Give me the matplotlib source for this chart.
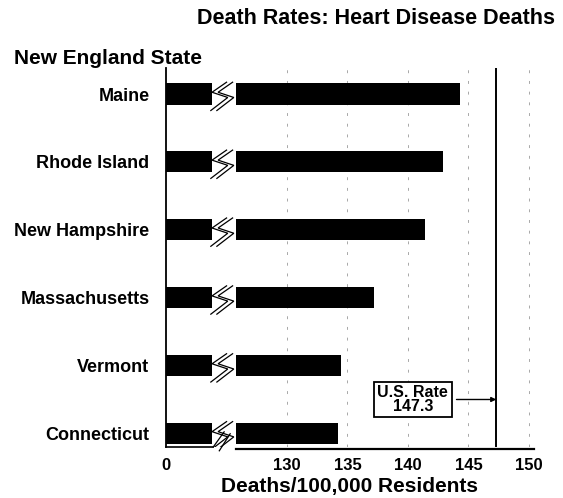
import matplotlib.pyplot as plt
import numpy as np

plt.rcParams['font.family'] = ['Liberation Sans', 'DejaVu Sans']
plt.rcParams['font.weight'] = 'bold'

states = ["Connecticut", "Vermont", "Massachusetts", "New Hampshire", "Rhode Island", "Maine"]
rates = [134.2, 134.5, 137.2, 141.4, 142.9, 144.3]
us_rate = 147.3
tick_vals = [130, 135, 140, 145, 150]

# broken axis: the stub left of the break stands for 0 .. ~124
AXIS_ZERO = 120.0
BREAK_LO, BREAK_HI = 123.8, 125.8

fig = plt.figure(figsize=(5.63, 4.98), dpi=100)
ax = fig.add_axes([0.295, 0.1024, 0.653, 0.7606])

ypos = np.arange(len(states))
bar_h = 0.31

# bars in two pieces around the break
ax.barh(ypos, BREAK_LO - AXIS_ZERO, left=AXIS_ZERO, height=bar_h, color='black', zorder=3)
ax.barh(ypos, np.array(rates) - BREAK_HI, left=BREAK_HI, height=bar_h, color='black', zorder=3)

# zigzag break marks on each bar
zx = np.array([125.0, 123.8, 125.1, 123.7])
zy = np.array([0.174, 0.026, -0.051, -0.243])
for y in ypos:
    for off in (0.0, 0.5):
        ax.plot(zx + off, y + zy, color='black', lw=0.9, zorder=4, solid_joinstyle='miter')

# dashed grid
for v in tick_vals:
    ax.axvline(v, color='#a8a8a8', lw=0.7, ls=(0, (3, 8)), zorder=1)

# U.S. rate line and callout
ax.axvline(us_rate, color='black', lw=1.4, zorder=2)
ax.annotate("U.S. Rate\n" + f"{us_rate}", xy=(us_rate, 0.5), xytext=(140.4, 0.5),
            ha='center', va='center', fontsize=11.5, fontweight='bold', linespacing=0.85,
            bbox=dict(boxstyle='square,pad=0.22', fc='white', ec='black', lw=1.3),
            arrowprops=dict(arrowstyle='-|>', color='black', lw=1, mutation_scale=7,
                            shrinkA=3, shrinkB=0))

ax.set_xlim(AXIS_ZERO, 150.4)
ax.set_ylim(-0.2, 5.38)

ax.set_yticks(ypos)
ax.set_yticklabels(states, fontsize=13, fontweight='bold')
ax.set_xticks([AXIS_ZERO] + tick_vals)
ax.set_xticklabels(['0'] + [str(v) for v in tick_vals], fontsize=12, fontweight='bold')
ax.tick_params(axis='y', length=0, pad=12)
ax.tick_params(axis='x', length=0, pad=8)

for s in ['top', 'right', 'bottom']:
    ax.spines[s].set_visible(False)
ax.spines['left'].set_linewidth(1.3)

# bottom axis line with break
tr = ax.get_xaxis_transform()
ax.plot([AXIS_ZERO, BREAK_LO + 0.1], [0, 0], color='black', lw=1.2, transform=tr, clip_on=False)
ax.plot([BREAK_LO + 0.1, 124.8], [0, 0.04], color='black', lw=0.9, transform=tr, clip_on=False)
ax.plot([124.4, 125.3], [-0.01, 0.035], color='black', lw=0.9, transform=tr, clip_on=False)
ax.plot([BREAK_HI, 150.4], [-0.005, -0.005], color='black', lw=1.6, transform=tr, clip_on=False)

ax.set_xlabel("Deaths/100,000 Residents", fontsize=15, fontweight='bold', labelpad=3)

fig.text(0.667, 0.962, "Death Rates: Heart Disease Deaths", ha='center', va='center',
         fontsize=15.5, fontweight='bold')
fig.text(0.025, 0.883, "New England State", ha='left', va='center',
         fontsize=15, fontweight='bold')

fig.savefig("out.png", dpi=100)
